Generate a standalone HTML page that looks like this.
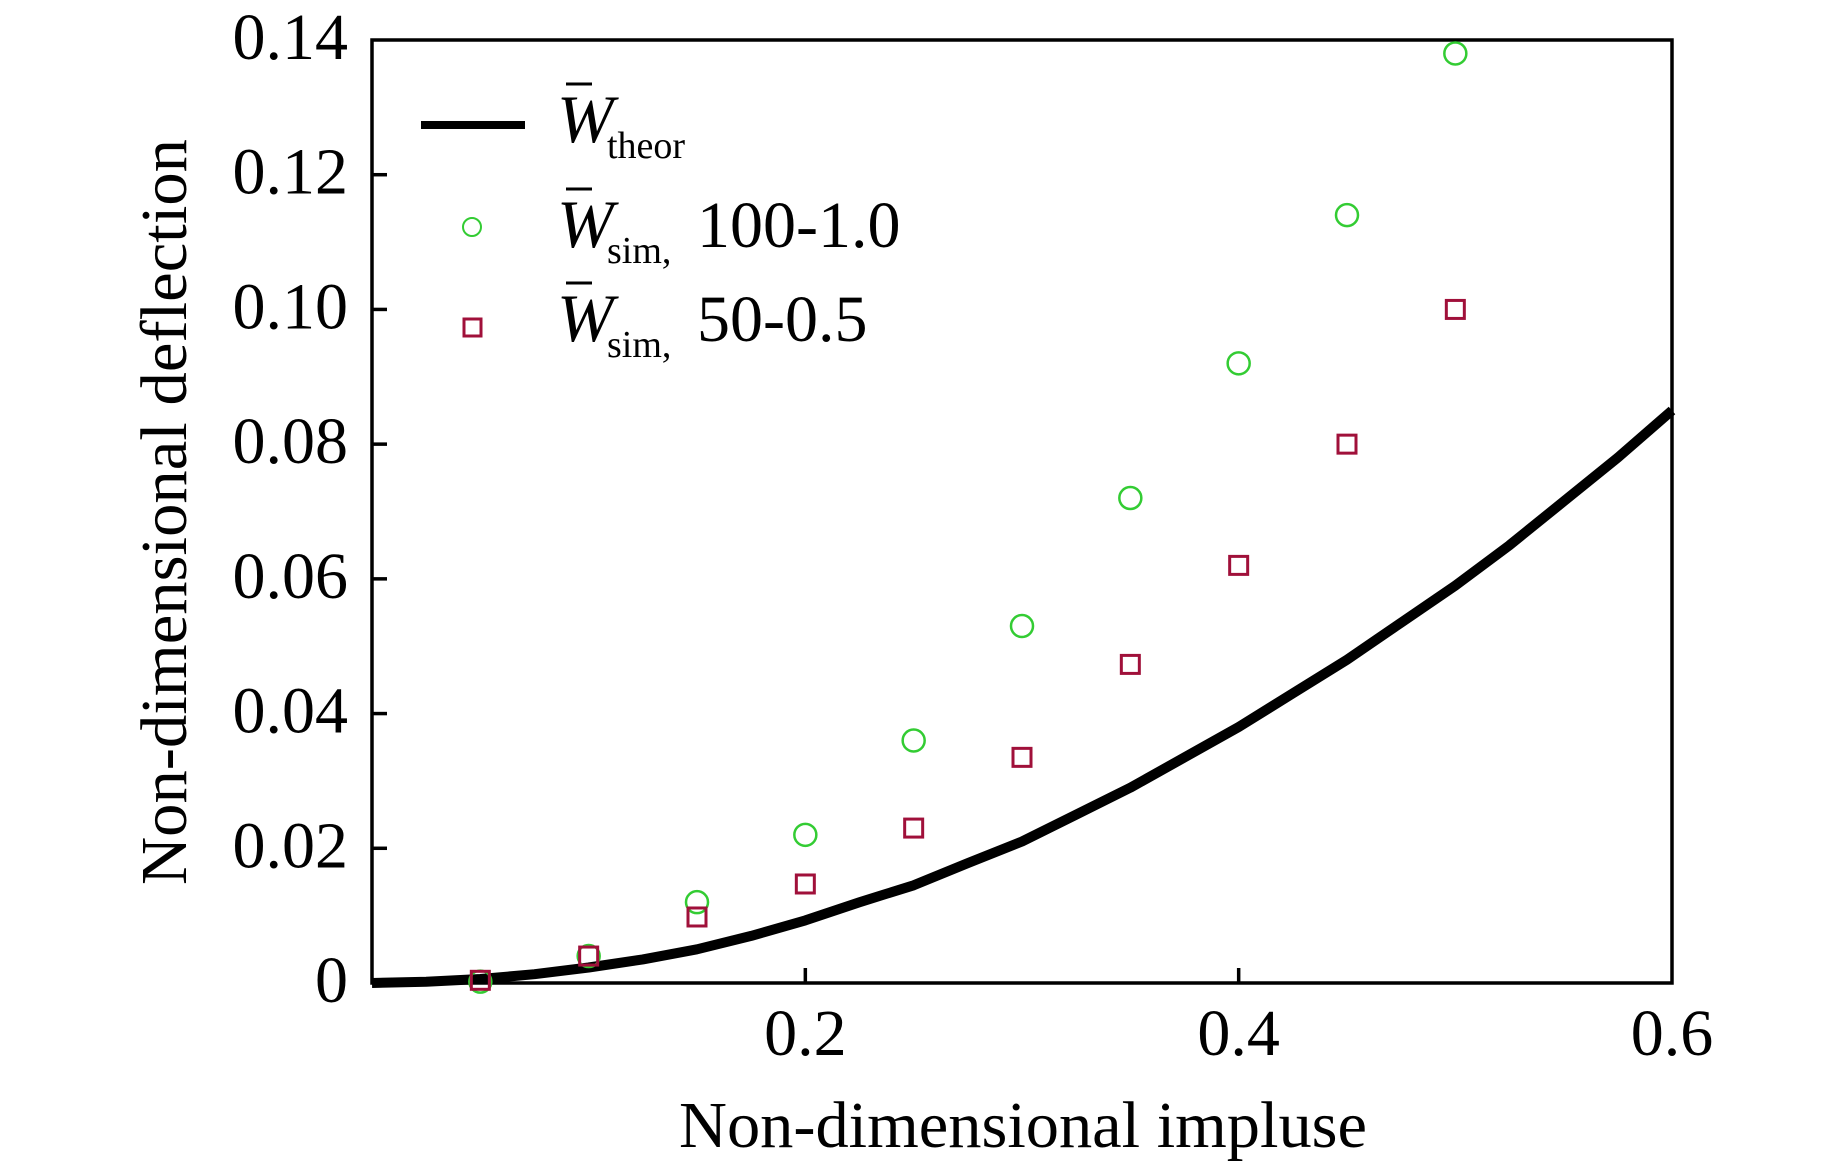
<!DOCTYPE html>
<html><head><meta charset="utf-8"><style>
html,body{margin:0;padding:0;background:#fff;}
svg{display:block;font-family:"Liberation Serif",serif;}
</style></head><body>
<svg id="chart" width="1843" height="1169" viewBox="0 0 1843 1169">
<g id="axes"></g>
<g id="marks"></g>
<g id="legend">
  <line x1="421" y1="125" x2="525" y2="125" stroke="#000" stroke-width="8"/>
  <g>
    <text x="557" y="142" font-size="68" font-style="italic">W</text>
    <line x1="566" y1="84" x2="592" y2="84" stroke="#000" stroke-width="3"/>
    <text x="607" y="158" font-size="38">theor</text>
  </g>
  <circle cx="472" cy="227" r="9" fill="none" stroke="#33cc33" stroke-width="2"/>
  <g>
    <text x="557" y="247" font-size="68" font-style="italic">W</text>
    <line x1="566" y1="189" x2="592" y2="189" stroke="#000" stroke-width="3"/>
    <text x="607" y="263" font-size="38">sim,</text>
    <text x="697" y="247" font-size="66">100-1.0</text>
  </g>
  <rect x="464" y="319" width="17" height="17" fill="none" stroke="#a0103a" stroke-width="3"/>
  <g>
    <text x="557" y="341" font-size="68" font-style="italic">W</text>
    <line x1="566" y1="283" x2="592" y2="283" stroke="#000" stroke-width="3"/>
    <text x="607" y="357" font-size="38">sim,</text>
    <text x="697" y="341" font-size="66">50-0.5</text>
  </g>
</g>
<text x="1023" y="1147" font-size="66" text-anchor="middle" textLength="688" lengthAdjust="spacingAndGlyphs">Non-dimensional impluse</text>
<text transform="translate(186,512) rotate(-90)" font-size="66" text-anchor="middle" textLength="746" lengthAdjust="spacingAndGlyphs">Non-dimensional deflection</text>
</svg>
<script>
const xTicks = [0.2, 0.4, 0.6];
const xTickLabels = ["0.2", "0.4", "0.6"];
const yTicks = [0, 0.02, 0.04, 0.06, 0.08, 0.10, 0.12, 0.14];
const yTickLabels = ["0", "0.02", "0.04", "0.06", "0.08", "0.10", "0.12", "0.14"];
const simX = [0.05, 0.1, 0.15, 0.2, 0.25, 0.3, 0.35, 0.4, 0.45, 0.5];
const sim100 = [0.0002, 0.004, 0.012, 0.022, 0.036, 0.053, 0.072, 0.092, 0.114, 0.138];
const sim50 = [0.0004, 0.004, 0.0098, 0.0147, 0.023, 0.0335, 0.0473, 0.062, 0.080, 0.100];
const theorX = [0.0, 0.025, 0.05, 0.075, 0.1, 0.125, 0.15, 0.175, 0.2, 0.225, 0.25, 0.275, 0.3, 0.325, 0.35, 0.375, 0.4, 0.425, 0.45, 0.475, 0.5, 0.525, 0.55, 0.575, 0.6];
const theorY = [0, 0.0002, 0.0006, 0.0013, 0.0023, 0.0035, 0.005, 0.007, 0.0093, 0.012, 0.0145, 0.0178, 0.021, 0.025, 0.029, 0.0335, 0.038, 0.043, 0.048, 0.0535, 0.059, 0.065, 0.0715, 0.078, 0.085];

const L=372,R=1672,T=40,B=983;
const sx=v=>L+(v-0)/0.6*(R-L);
const sy=v=>B-(v-0)/0.14*(B-T);
const NS="http://www.w3.org/2000/svg";
function mk(tag,attrs,parent){const e=document.createElementNS(NS,tag);for(const k in attrs)e.setAttribute(k,attrs[k]);parent.appendChild(e);return e;}
const axes=document.getElementById('axes'), marks=document.getElementById('marks');

let fr=mk('rect',{x:L,y:T,width:R-L,height:B-T,fill:'none',stroke:'#000','stroke-width':3.5},axes);



yTicks.forEach((v,i)=>{
  const y=sy(v);
  if(i>0&&i<yTicks.length-1){let t=mk('line',{x1:L,y1:y,x2:L+15,y2:y,stroke:'#000','stroke-width':3.5},axes);
  
  }
  let lb=mk('text',{x:348,y:y+19,'font-size':66,'text-anchor':'end'},axes);
  lb.textContent=yTickLabels[i];
  
  
});
xTicks.forEach((v,i)=>{
  const x=sx(v);
  if(i<xTicks.length-1){let t=mk('line',{x1:x,y1:B,x2:x,y2:B-15,stroke:'#000','stroke-width':3.5},axes);
  
  }
  let lb=mk('text',{x:x,y:1055,'font-size':66,'text-anchor':'middle'},axes);
  lb.textContent=xTickLabels[i];
  
  
});

let d=theorX.map((v,i)=>(i?'L':'M')+sx(v).toFixed(1)+','+sy(theorY[i]).toFixed(1)).join(' ');
let p=mk('path',{d:d,fill:'none',stroke:'#000','stroke-width':10,'stroke-linejoin':'round'},marks);



simX.forEach((v,i)=>{
  let c=mk('circle',{cx:sx(v),cy:sy(sim100[i]),r:11,fill:'none',stroke:'#33cc33','stroke-width':2.5},marks);
  
  
  let s=mk('rect',{x:sx(v)-9,y:sy(sim50[i])-9,width:18,height:18,fill:'none',stroke:'#a0103a','stroke-width':3},marks);
  
  
});
</script>
</body></html>
